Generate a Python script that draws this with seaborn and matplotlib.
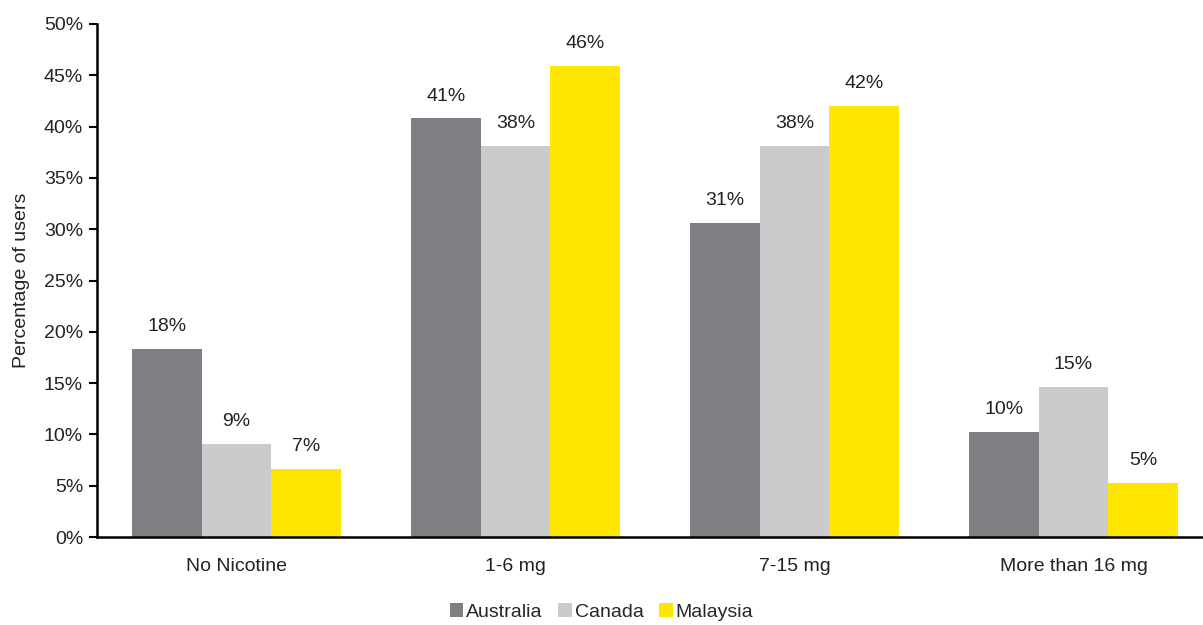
import matplotlib
matplotlib.use("Agg")
import matplotlib.pyplot as plt
import seaborn as sns
import pandas as pd

categories = ["No Nicotine", "1-6 mg", "7-15 mg", "More than 16 mg"]
countries = ["Australia", "Canada", "Malaysia"]
australia = [18.3, 40.8, 30.6, 10.2]
canada = [9.1, 38.1, 38.1, 14.6]
malaysia = [6.6, 45.9, 42.0, 5.3]
colors = ["#7f7e83", "#cbcbcd", "#ffe600"]

rows = []
for country, vals in zip(countries, [australia, canada, malaysia]):
    for cat, v in zip(categories, vals):
        rows.append({"Nicotine": cat, "Country": country, "Share": v})
df = pd.DataFrame(rows)

sns.set_style("white")
plt.rcParams["font.family"] = ["Liberation Sans", "DejaVu Sans"]

W, H = 1203, 625
FS = 14
fig = plt.figure(figsize=(W / 100, H / 100), dpi=100)
ax = fig.add_axes([97 / W, (H - 537) / H, 1116 / W, 513 / H])

sns.barplot(data=df, x="Nicotine", y="Share", hue="Country", order=categories,
            hue_order=countries, palette=colors, width=0.75, gap=0,
            saturation=1, edgecolor="none", ax=ax, legend=True)

for container in ax.containers:
    ax.bar_label(container, labels=[f"{v:.0f}%" for v in container.datavalues],
                 padding=10, fontsize=FS, color="#222222")

ax.set_ylim(0, 50)
ax.set_xlim(-0.5, 3.5)
ax.set_yticks(range(0, 51, 5))
ax.set_yticklabels([f"{t}%" for t in range(0, 51, 5)], fontsize=FS, color="#222222")
ax.set_xticks(range(4))
ax.set_xticklabels(categories, fontsize=FS, color="#222222")
ax.set_xticks([0.5, 1.5, 2.5], minor=True)
ax.tick_params(axis="x", which="major", length=0, pad=15)
ax.tick_params(axis="x", which="minor", length=6, width=1.5, direction="out", color="black")
ax.tick_params(axis="y", length=6, width=1.5, direction="out", color="black", left=True, pad=4)
ax.set_xlabel("")
ax.set_ylabel("Percentage of users", fontsize=FS, color="#222222", labelpad=10)

for side in ["top", "right"]:
    ax.spines[side].set_visible(False)
for side in ["left", "bottom"]:
    ax.spines[side].set_color("black")
    ax.spines[side].set_linewidth(1.8)

handles, labels = ax.get_legend_handles_labels()
ax.legend(handles, labels, loc="center", bbox_to_anchor=(0.5, 13 / H),
          bbox_transform=fig.transFigure, ncol=3, frameon=False, fontsize=FS,
          handlelength=0.7, handleheight=0.7, handletextpad=0.15, columnspacing=0.8)

fig.savefig("out.png", dpi=100)
